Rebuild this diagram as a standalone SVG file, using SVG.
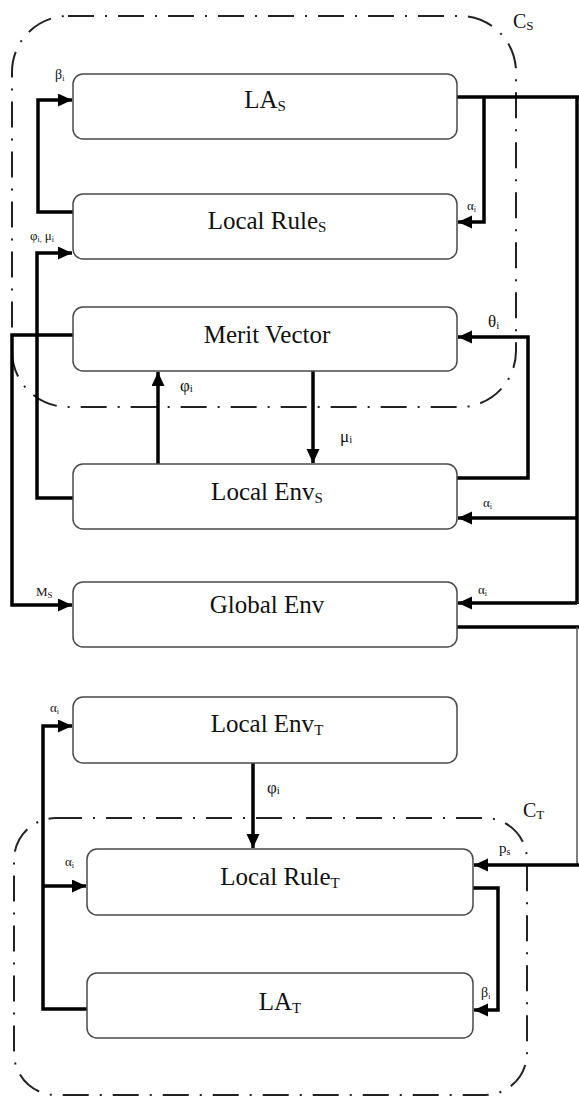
<svg xmlns="http://www.w3.org/2000/svg" width="579" height="1100" viewBox="0 0 579 1100" font-family="'Liberation Serif', 'Times New Roman', serif">
<style>
.box{fill:#fff;stroke:#4a4a4a;stroke-width:1.5}
.lbl{font-family:'Liberation Serif','Times New Roman',serif;font-size:25px;fill:#111;text-anchor:middle}
.sm{font-family:'Liberation Serif','Times New Roman',serif;fill:#111}
.cont{fill:none;stroke:#222;stroke-width:2;stroke-dasharray:26 11 2 11}
.con{fill:none;stroke:#000;stroke-width:3.5;stroke-linejoin:miter}
.thin{fill:none;stroke:#555;stroke-width:1.5}
</style>
<defs>
<marker id="ah" markerUnits="userSpaceOnUse" markerWidth="16" markerHeight="14" refX="14" refY="6.5" orient="auto">
<path d="M0,0 L14,6.5 L0,13 Z" fill="#000"/>
</marker>
</defs>
<g id="containers">
<rect id="CS" class="cont" x="12" y="16" width="504" height="391" rx="56" ry="56"/>
<text class="sm" x="513" y="28" font-size="20">C<tspan font-size="13" dy="2">S</tspan></text>
<rect id="CT" class="cont" x="14" y="818" width="513" height="277" rx="42" ry="42"/>
<text class="sm" x="523" y="817" font-size="20">C<tspan font-size="13" dy="2">T</tspan></text>
</g>
<g id="connectors">
<path class="con" d="M457,97 H579"/>
<path class="con" d="M577,97 V604"/>
<path class="con" d="M484,97 V222 H458" marker-end="url(#ah)"/>
<path class="con" d="M577,518 H458" marker-end="url(#ah)"/>
<path class="con" d="M577,603 H458" marker-end="url(#ah)"/>
<path class="con" d="M457,627 H579"/>
<path class="thin" d="M577,627 V865"/>
<path class="con" d="M579,865 H474" marker-end="url(#ah)"/>
<path class="con" d="M73,212 H38 V100 H72" marker-end="url(#ah)"/>
<path class="con" d="M73,498 H37 V253 H72" marker-end="url(#ah)"/>
<path class="con" d="M73,335 H12 V605 H72" marker-end="url(#ah)"/>
<path class="con" d="M158,464 V372" marker-end="url(#ah)"/>
<path class="con" d="M313,371 V463" marker-end="url(#ah)"/>
<path class="con" d="M457,478 H528 V337 H458" marker-end="url(#ah)"/>
<path class="con" d="M253,763 V848" marker-end="url(#ah)"/>
<path class="con" d="M87,1009 H43 V726 H72" marker-end="url(#ah)"/>
<path class="con" d="M43,886 H86" marker-end="url(#ah)"/>
<path class="con" d="M473,888 H498 V1010 H474" marker-end="url(#ah)"/>
<text class="sm" x="55" y="79" font-size="14">β<tspan font-size="8" dy="2">i</tspan></text>
<text class="sm" x="30" y="240" font-size="13">φ<tspan font-size="8" dy="2">i,</tspan><tspan dy="-2" dx="3">μ</tspan><tspan font-size="8" dy="2">i</tspan></text>
<text class="sm" x="467" y="210" font-size="13">α<tspan font-size="8" dy="2">i</tspan></text>
<text class="sm" x="488" y="327" font-size="17">θ<tspan font-size="11" dy="2">i</tspan></text>
<text class="sm" x="180" y="391" font-size="17">φ<tspan font-size="11" dy="1">i</tspan></text>
<text class="sm" x="340" y="442" font-size="17">μ<tspan font-size="11" dy="1">i</tspan></text>
<text class="sm" x="483" y="507" font-size="13">α<tspan font-size="8" dy="2">i</tspan></text>
<text class="sm" x="478" y="594" font-size="13">α<tspan font-size="8" dy="2">i</tspan></text>
<text class="sm" x="36" y="596" font-size="13">M<tspan font-size="9" dy="2">S</tspan></text>
<text class="sm" x="50" y="712" font-size="13">α<tspan font-size="8" dy="2">i</tspan></text>
<text class="sm" x="65" y="866" font-size="13">α<tspan font-size="8" dy="2">i</tspan></text>
<text class="sm" x="267" y="793" font-size="17">φ<tspan font-size="11" dy="1">i</tspan></text>
<text class="sm" x="499" y="853" font-size="15">p<tspan font-size="10" dy="2">s</tspan></text>
<text class="sm" x="481" y="997" font-size="14">β<tspan font-size="8" dy="2">i</tspan></text>
</g>
<g id="LAS"><rect class="box" x="73" y="74" width="384" height="65" rx="10"/><text class="lbl" x="265" y="108">LA<tspan font-size="15" dy="3">S</tspan></text></g>
<g id="LocalRulesS"><rect class="box" x="73" y="194" width="384" height="65" rx="10"/><text class="lbl" x="267" y="229">Local Rule<tspan font-size="15" dy="3">S</tspan></text></g>
<g id="MeritVector"><rect class="box" x="73" y="307" width="384" height="64" rx="10"/><text class="lbl" x="267" y="343">Merit Vector</text></g>
<g id="LocalEnvS"><rect class="box" x="73" y="464" width="384" height="65" rx="10"/><text class="lbl" x="267" y="500">Local Env<tspan font-size="15" dy="3">S</tspan></text></g>
<g id="GlobalEnv"><rect class="box" x="73" y="582" width="384" height="65" rx="10"/><text class="lbl" x="267" y="613">Global Env</text></g>
<g id="LocalEnvT"><rect class="box" x="73" y="697" width="384" height="66" rx="10"/><text class="lbl" x="267" y="732">Local Env<tspan font-size="15" dy="3">T</tspan></text></g>
<g id="LocalRuleT"><rect class="box" x="87" y="849" width="386" height="66" rx="10"/><text class="lbl" x="280" y="885">Local Rule<tspan font-size="15" dy="3">T</tspan></text></g>
<g id="LAT"><rect class="box" x="87" y="973" width="386" height="65" rx="10"/><text class="lbl" x="280" y="1010">LA<tspan font-size="15" dy="3">T</tspan></text></g>
</svg>
